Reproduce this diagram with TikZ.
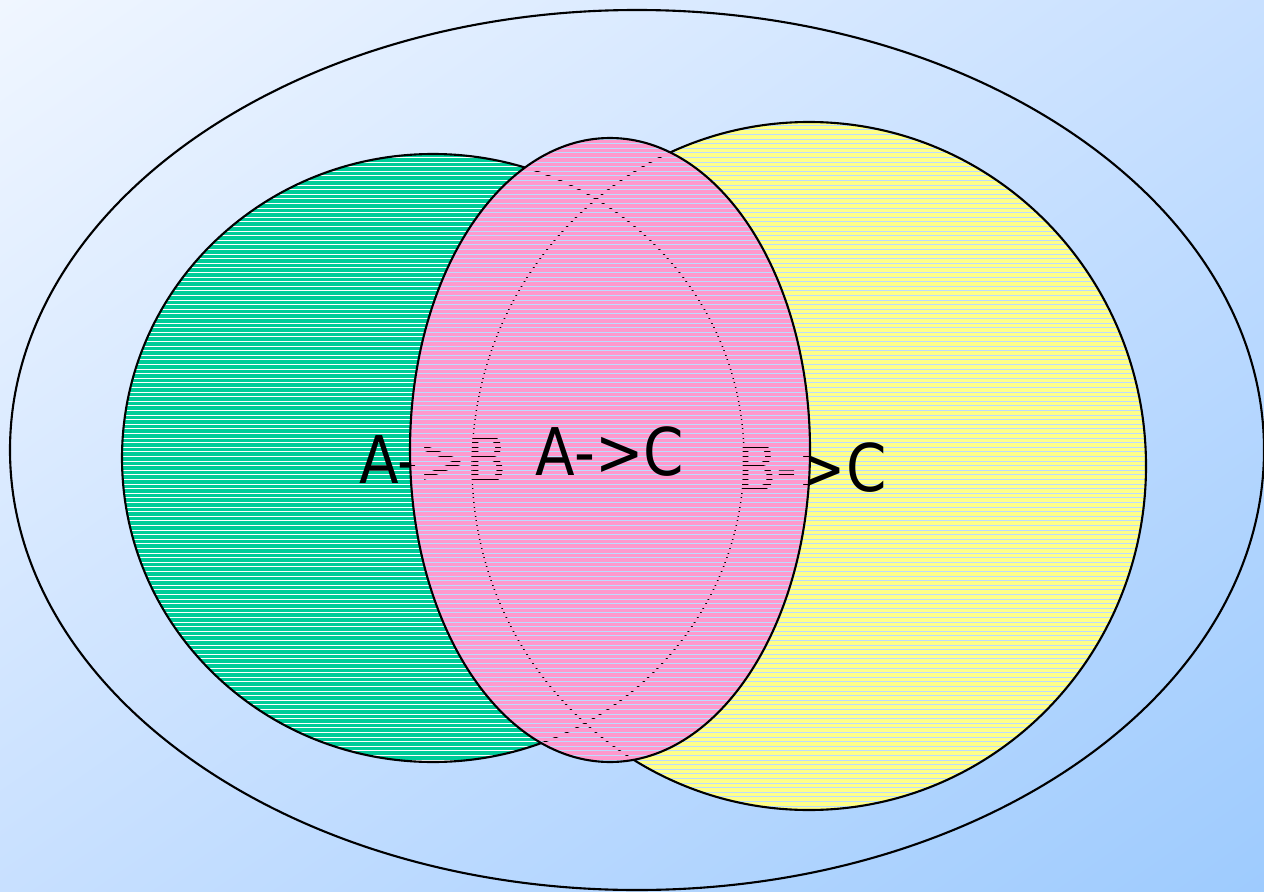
\documentclass[tikz,border=0pt]{standalone}
\usepackage{fontspec}
\setmainfont{DejaVu Sans}[FakeStretch=0.88]
\usetikzlibrary{shadings}
\definecolor{bgtop}{HTML}{F0F6FF}
\definecolor{bgmid}{HTML}{C8E0FF}
\definecolor{bglow}{HTML}{9ECBFE}
\definecolor{gapblue}{HTML}{BCDCFF}
\definecolor{setgreen}{HTML}{00CC99}
\definecolor{setyellow}{HTML}{FFFF88}
\definecolor{setpink}{HTML}{FF99CC}
\tikzset{
  stripe/.style={line width=1pt,#1},
  rim/.style={line width=0.6pt},
  setlabel/.style={anchor=base,font=\fontsize{18.7}{22}\selectfont},
}
\begin{document}
\begin{tikzpicture}[x=0.01cm,y=0.01cm]
  \useasboundingbox (0,0) rectangle (1264,-891);
  \shade[upper left=bgtop,upper right=bgmid,lower left=bgmid,lower right=bglow] (0,0) rectangle (1264,-891);
  \draw[rim] (637,-450) ellipse [x radius=627,y radius=440];
  % A->B
  \begin{scope}
    \clip (433,-458) ellipse [x radius=311,y radius=304];
    \fill[white] (100,-100) rectangle (800,-820);
    \foreach \y in {-100,-104.6,...,-820} \draw[stripe=setgreen] (100,\y) -- (800,\y);
  \end{scope}
  \draw[rim] (433,-458) ellipse [x radius=311,y radius=304];
  % B->C
  \begin{scope}
    \clip (809,-466) ellipse [x radius=337,y radius=344];
    \fill[gapblue] (400,-100) rectangle (1200,-820);
    \foreach \y in {-100,-104.6,...,-820} \draw[stripe=setyellow] (400,\y) -- (1200,\y);
  \end{scope}
  \draw[rim] (809,-466) ellipse [x radius=337,y radius=344];
  \node[setlabel] (ab) at (433,-483) {A->B};
  \node[setlabel] (bc) at (812,-491) {B->C};
  % A->C, laid over the other two
  \begin{scope}
    \clip (610,-450) ellipse [x radius=200,y radius=312];
    \fill[gapblue] (400,-100) rectangle (820,-820);
    \draw[thin] (433,-458) ellipse [x radius=311,y radius=304];
    \draw[thin] (809,-466) ellipse [x radius=337,y radius=344];
    \node[setlabel] at (ab.base) {A->B};
    \node[setlabel] at (bc.base) {B->C};
    \foreach \y in {-100,-104.6,...,-820} \draw[stripe=setpink] (400,\y) -- (820,\y);
  \end{scope}
  \draw[rim] (610,-450) ellipse [x radius=200,y radius=312];
  \node[setlabel] (ac) at (610,-475) {A->C};
\end{tikzpicture}
\end{document}
